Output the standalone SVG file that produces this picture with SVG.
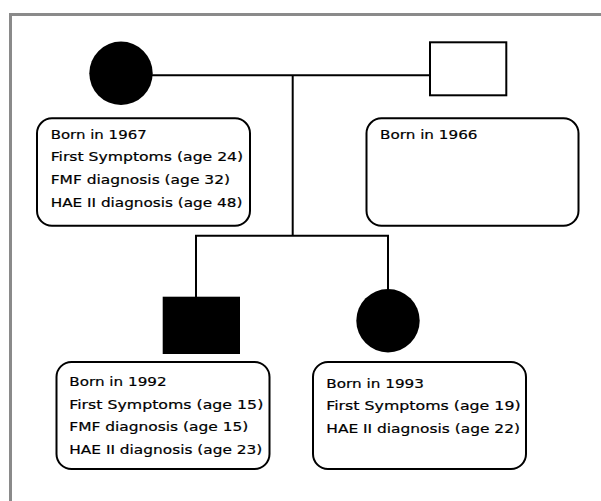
<svg xmlns="http://www.w3.org/2000/svg" width="601" height="501" viewBox="0 0 601 501">
<style>
.frame{fill:none;stroke:#8a8a8a;stroke-width:3}
.ln{stroke:#000;stroke-width:2;fill:none}
.box{fill:#fff;stroke:#000;stroke-width:2}
.aff{fill:#000}
.un{fill:#fff;stroke:#000;stroke-width:2}
text{font-family:"DejaVu Sans","Liberation Sans",sans-serif;font-size:12.6px;fill:#000;stroke:#000;stroke-width:0.2}
</style>
<rect x="0" y="0" width="601" height="501" fill="#fff"/>
<rect class="frame" x="10.5" y="14.5" width="620" height="520"/>
<g id="connectors">
<line class="ln" x1="150" y1="75.3" x2="430" y2="75.3"/>
<line class="ln" x1="292.7" y1="75.3" x2="292.7" y2="235.7"/>
<line class="ln" x1="195" y1="235.7" x2="389" y2="235.7"/>
<line class="ln" x1="196" y1="235.7" x2="196" y2="297"/>
<line class="ln" x1="388" y1="235.7" x2="388" y2="290"/>
</g>
<g id="mother">
<circle class="aff" cx="121" cy="73.3" r="31.7"/>
<rect class="box" x="37" y="118.3" width="213" height="107.5" rx="15"/>
<text x="50.7" y="139.3" textLength="96" lengthAdjust="spacingAndGlyphs">Born in 1967</text>
<text x="50.7" y="161.3" textLength="192.5" lengthAdjust="spacingAndGlyphs">First Symptoms (age 24)</text>
<text x="50.7" y="184" textLength="179.3" lengthAdjust="spacingAndGlyphs">FMF diagnosis (age 32)</text>
<text x="50.7" y="206.5" textLength="191.7" lengthAdjust="spacingAndGlyphs">HAE II diagnosis (age 48)</text>
</g>
<g id="father">
<rect class="un" x="430" y="42.3" width="76.3" height="53"/>
<rect class="box" x="366.5" y="118.3" width="212" height="107.5" rx="15"/>
<text x="380" y="139.3" textLength="97.5" lengthAdjust="spacingAndGlyphs">Born in 1966</text>
</g>
<g id="son">
<rect class="aff" x="162.7" y="296.7" width="77.3" height="57.3"/>
<rect class="box" x="56.5" y="362" width="213" height="107" rx="15"/>
<text x="69.3" y="386" textLength="97.3" lengthAdjust="spacingAndGlyphs">Born in 1992</text>
<text x="69.3" y="408.5" textLength="194" lengthAdjust="spacingAndGlyphs">First Symptoms (age 15)</text>
<text x="69.3" y="431" textLength="179" lengthAdjust="spacingAndGlyphs">FMF diagnosis (age 15)</text>
<text x="69.3" y="453.5" textLength="193" lengthAdjust="spacingAndGlyphs">HAE II diagnosis (age 23)</text>
</g>
<g id="daughter">
<circle class="aff" cx="388" cy="320.7" r="31.7"/>
<rect class="box" x="313" y="362" width="213" height="107" rx="15"/>
<text x="326.3" y="387.5" textLength="97.7" lengthAdjust="spacingAndGlyphs">Born in 1993</text>
<text x="326.3" y="410.3" textLength="194.3" lengthAdjust="spacingAndGlyphs">First Symptoms (age 19)</text>
<text x="326.3" y="433" textLength="193.7" lengthAdjust="spacingAndGlyphs">HAE II diagnosis (age 22)</text>
</g>
</svg>
